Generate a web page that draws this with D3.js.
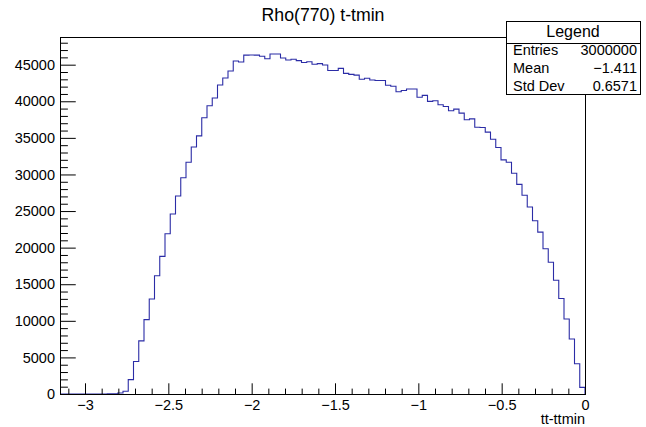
<!DOCTYPE html>
<html>
<head>
<meta charset="utf-8">
<script src="https://cdn.jsdelivr.net/npm/d3@7"></script>
<style>
  html, body { margin: 0; padding: 0; background: #fff; }
  svg { display: block; font-family: "Liberation Sans", Arial, Helvetica, sans-serif; }
</style>
</head>
<body>
<svg id="chart" width="646" height="427"></svg>
<script>
// ---------------- data ----------------
const titleText = "Rho(770) t-tmin";
const xAxisTitle = "tt-ttmin";
const xRange = [-3.15, 0];               // histogram axis range (100 bins)
const binValues = [
  0, 0, 0, 0, 0, 0, 0, 0, 5, 15,
  40, 130, 380, 1960, 4450, 7260, 10160, 12990, 16160, 18810,
  21900, 24590, 27050, 29560, 31670, 33750, 35270, 37740, 39380, 40440,
  42220, 43180, 44140, 45510, 45370, 46300, 46330, 46300, 46160, 45820,
  46460, 46460, 45910, 45640, 45750, 45550, 45300, 45410, 45050, 45140,
  44950, 44200, 44200, 44500, 43810, 43680, 43580, 43010, 43150, 42900,
  42830, 42830, 42200, 42050, 41300, 41480, 41670, 41670, 40550, 40800,
  39980, 40070, 39520, 39290, 38700, 38930, 38380, 37470, 37600, 36460,
  36420, 35780, 34820, 33680, 31990, 31670, 30160, 28650, 27150, 25550,
  23680, 22120, 19840, 18010, 15550, 13040, 10250, 7510, 4130, 900
];
const xMajorTicks = [-3, -2.5, -2, -1.5, -1, -0.5, 0];
const xMinorTicks = [-3.1, -2.9, -2.8, -2.7, -2.6, -2.4, -2.3, -2.2, -2.1, -1.9, -1.8, -1.7, -1.6,
                     -1.4, -1.3, -1.2, -1.1, -0.9, -0.8, -0.7, -0.6, -0.4, -0.3, -0.2, -0.1];
const yMajorTicks = [0, 5000, 10000, 15000, 20000, 25000, 30000, 35000, 40000, 45000];
const statsHeader = "Legend";
const statsNames = ["Entries", "Mean", "Std Dev"];
const statsValues = ["3000000", "\u22121.411", "0.6571"];

// ---------------- layout ----------------
const W = 646, H = 427;
const frame = { left: 60, right: 585, top: 37, bottom: 394 };
const lineColor = "#2b2ca6";
const labelSize = 14.5;

const svg = d3.select("#chart");
svg.append("rect").attr("width", W).attr("height", H).attr("fill", "#fff");

const yMaxVal = d3.max(binValues) * 1.05;
const x = d3.scaleLinear().domain(xRange).range([frame.left, frame.right]);
const y = d3.scaleLinear().domain([0, yMaxVal]).range([frame.bottom, frame.top]);

const nBins = binValues.length;
const binW = (xRange[1] - xRange[0]) / nBins;
const edges = d3.range(nBins + 1).map(i => xRange[0] + i * binW);

// histogram outline (step)
const pts = [[edges[0], 0]];
binValues.forEach((v, i) => { pts.push([edges[i], v]); pts.push([edges[i + 1], v]); });
pts.push([edges[nBins], 0]);

const line = d3.line().x(d => x(d[0])).y(d => y(d[1]));
svg.append("path")
  .attr("d", line(pts))
  .attr("fill", "none")
  .attr("stroke", lineColor)
  .attr("stroke-width", 1.1);

// minus sign formatting
const fmtX = d => (d < 0 ? "\u2212" : "") + Math.abs(d).toString();

// x axis
const xMajorAxis = d3.axisBottom(x).tickValues(xMajorTicks).tickSizeInner(-10.7).tickSizeOuter(0)
  .tickPadding(6).tickFormat(fmtX);
const xMinorAxis = d3.axisBottom(x).tickValues(xMinorTicks).tickSizeInner(-5.4).tickSizeOuter(0)
  .tickFormat("");
const gxMin = svg.append("g").attr("transform", `translate(0,${frame.bottom})`).call(xMinorAxis);
const gx = svg.append("g").attr("transform", `translate(0,${frame.bottom})`).call(xMajorAxis);

// y axis
const yMinorTicks = d3.range(1000, yMaxVal, 1000).filter(v => v % 5000 !== 0);
const yMajorAxis = d3.axisLeft(y).tickValues(yMajorTicks).tickSizeInner(-15.75).tickSizeOuter(0)
  .tickPadding(5).tickFormat(d3.format("d"));
const yMinorAxis = d3.axisLeft(y).tickValues(yMinorTicks).tickSizeInner(-7.9).tickSizeOuter(0)
  .tickFormat("");
const gyMin = svg.append("g").attr("transform", `translate(${frame.left},0)`).call(yMinorAxis);
const gy = svg.append("g").attr("transform", `translate(${frame.left},0)`).call(yMajorAxis);

[gx, gxMin, gy, gyMin].forEach(g => {
  g.select(".domain").remove();
  g.selectAll("line").attr("stroke", "#000").attr("stroke-width", 1);
  g.selectAll("text").attr("fill", "#000")
    .style("font-family", '"Liberation Sans", Arial, Helvetica, sans-serif')
    .style("font-size", labelSize + "px");
});

// frame
svg.append("rect")
  .attr("x", frame.left + 0.5).attr("y", frame.top + 0.5)
  .attr("width", frame.right - frame.left).attr("height", frame.bottom - frame.top)
  .attr("fill", "none").attr("stroke", "#000").attr("stroke-width", 1);

// title
svg.append("text")
  .attr("x", 323).attr("y", 21)
  .attr("text-anchor", "middle")
  .style("font-size", "17.7px")
  .attr("fill", "#000")
  .text(titleText);

// x axis title
svg.append("text")
  .attr("x", frame.right).attr("y", 424)
  .attr("text-anchor", "end")
  .style("font-size", labelSize + "px")
  .attr("fill", "#000")
  .text(xAxisTitle);

// stats box
const box = { left: 506, right: 640, top: 21, bottom: 94, sep: 43 };
const sb = svg.append("g");
sb.append("rect")
  .attr("x", box.left + 0.5).attr("y", box.top + 0.5)
  .attr("width", box.right - box.left).attr("height", box.bottom - box.top)
  .attr("fill", "#fff").attr("stroke", "#000").attr("stroke-width", 1);
sb.append("line")
  .attr("x1", box.left).attr("x2", box.right + 1)
  .attr("y1", box.sep + 0.5).attr("y2", box.sep + 0.5)
  .attr("stroke", "#000");
sb.append("text")
  .attr("x", (box.left + box.right) / 2).attr("y", 36.5)
  .attr("text-anchor", "middle")
  .style("font-size", "16px")
  .attr("fill", "#000")
  .text(statsHeader);
const rowY = [54.5, 73, 91];
statsNames.forEach((n, i) => {
  sb.append("text").attr("x", box.left + 7).attr("y", rowY[i])
    .style("font-size", "14.5px").attr("fill", "#000").text(n);
  sb.append("text").attr("x", box.right - 3).attr("y", rowY[i])
    .attr("text-anchor", "end")
    .style("font-size", "14.5px").attr("fill", "#000").text(statsValues[i]);
});
</script>
</body>
</html>
